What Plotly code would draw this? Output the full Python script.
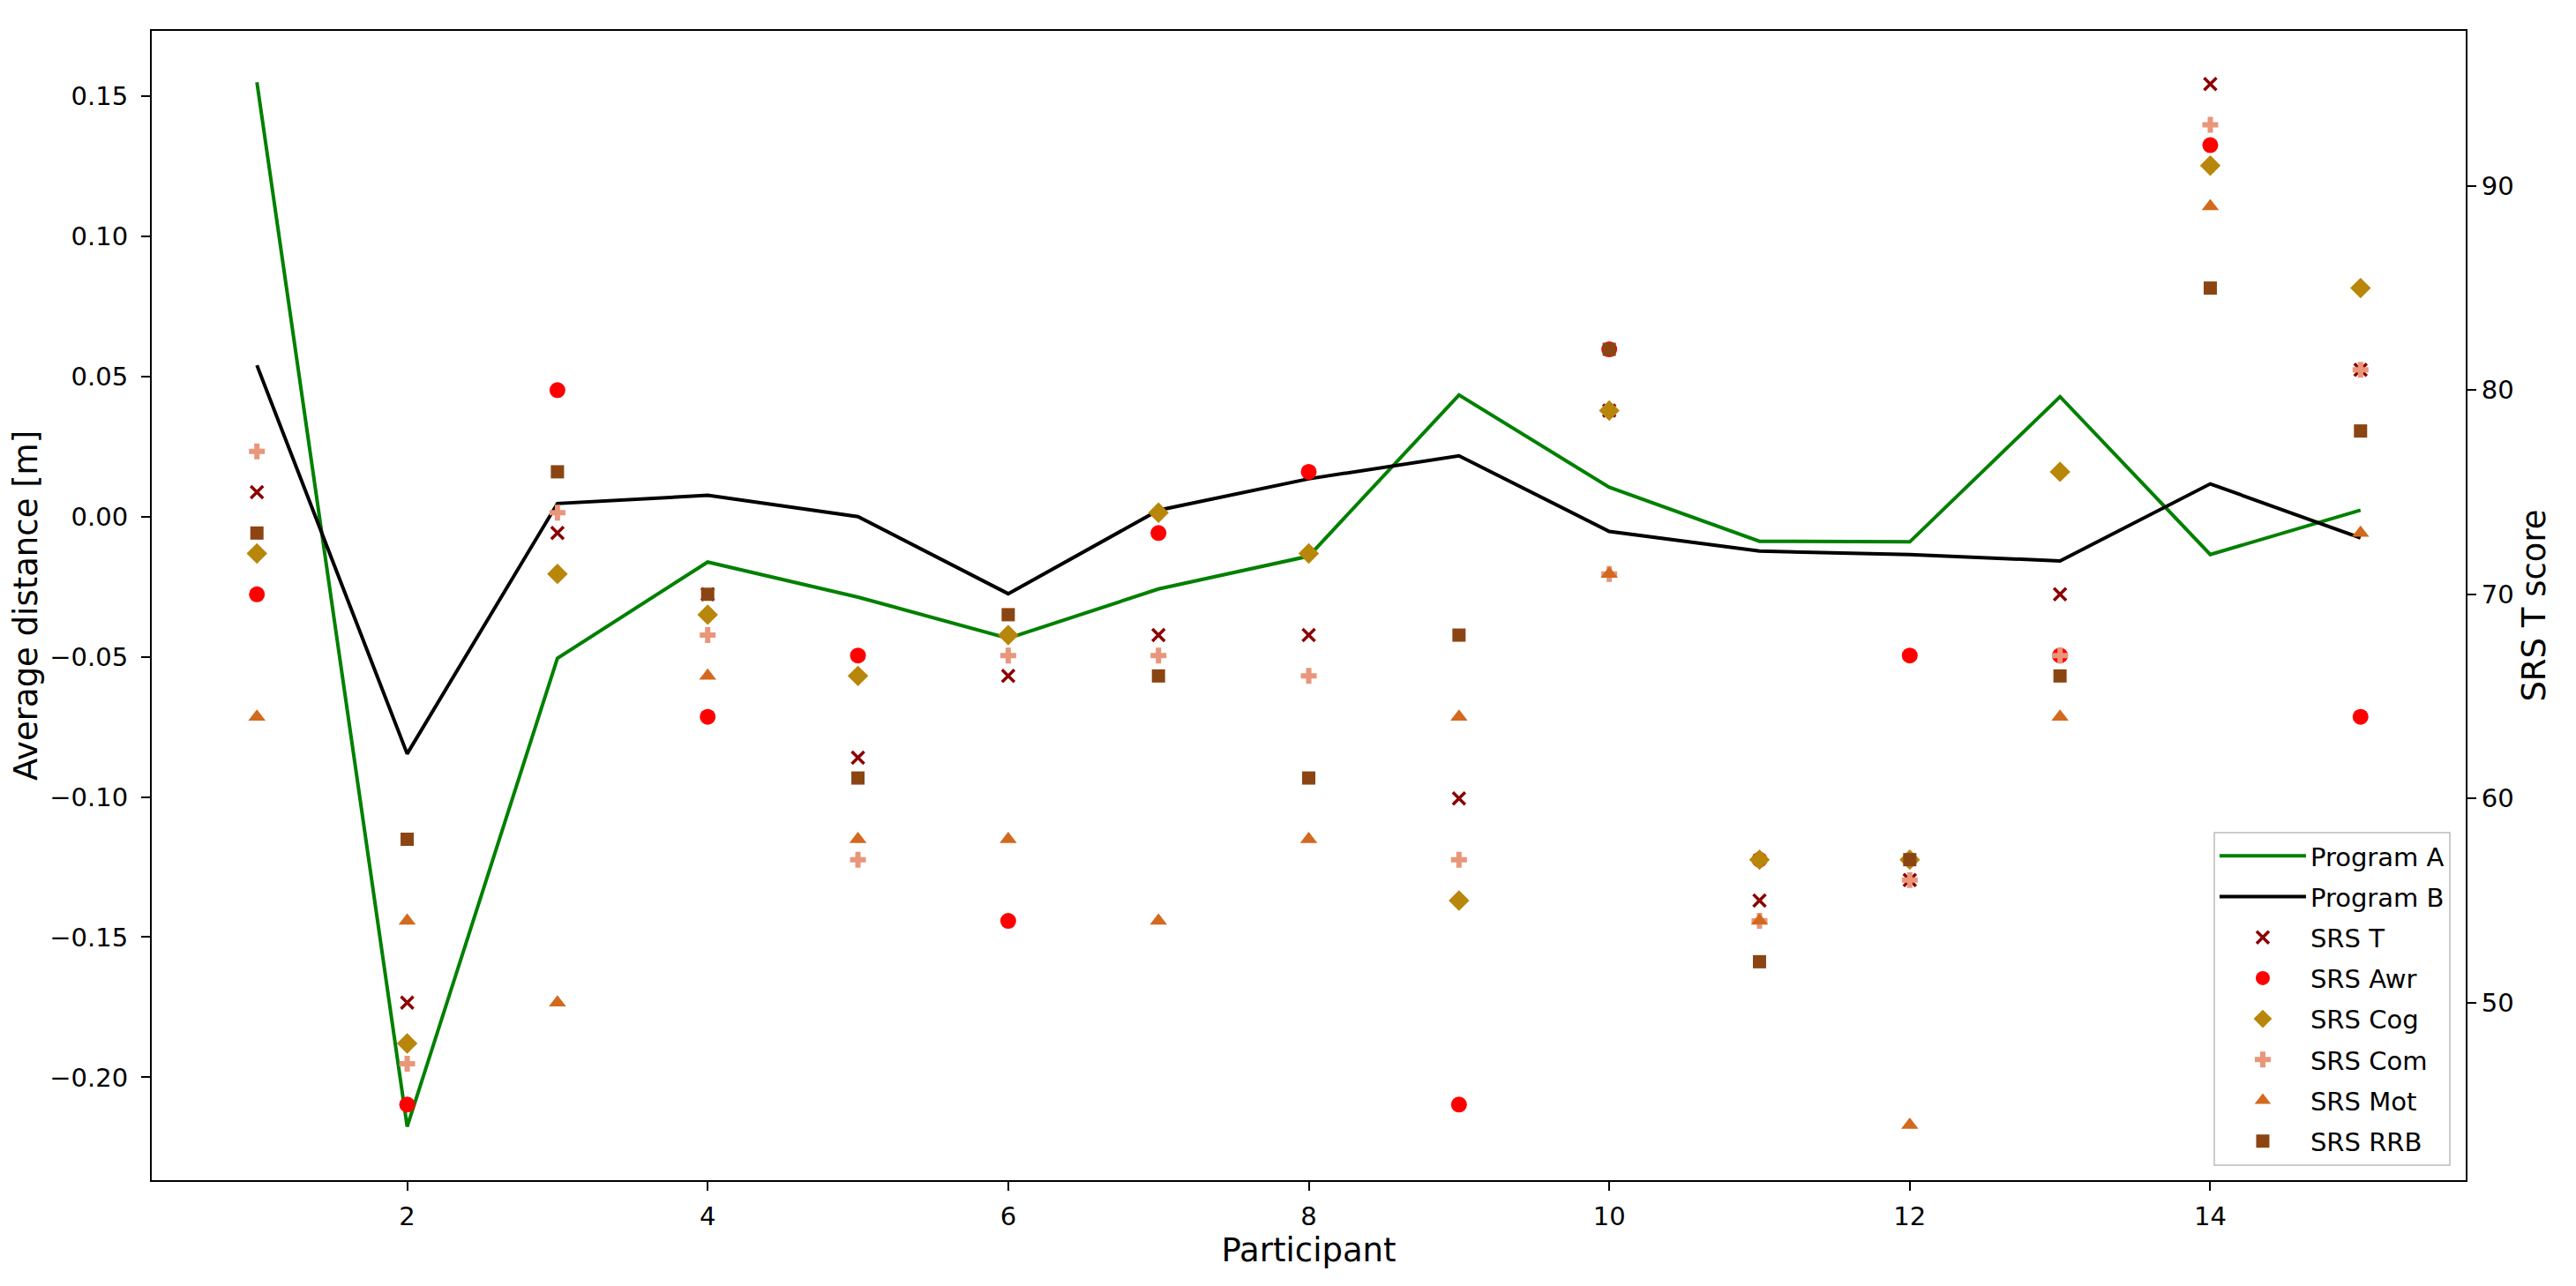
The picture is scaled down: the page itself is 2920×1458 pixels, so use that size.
import plotly.graph_objects as go

participants = list(range(1, 16))
program_a = [0.155, -0.2176, -0.0505, -0.0162, -0.0287, -0.0434, -0.0258, -0.0141,
             0.0434, 0.0105, -0.0088, -0.0090, 0.0428, -0.0135, 0.0023]
program_b = [0.054, -0.0846, 0.0047, 0.0076, 0.0, -0.0275, 0.0023, 0.0135,
             0.0217, -0.0053, -0.0123, -0.0135, -0.0158, 0.0117, -0.0076]

srs_t = [75, 50, 73, 70, 62, 66, 68, 68, 60, 79, 55, 56, 70, 95, 81]
srs_awr = [70, 45, 80, 64, 67, 54, 73, 76, 45, 82, 57, 67, 67, 92, 64]
srs_cog = [72, 48, 71, 69, 66, 68, 74, 72, 55, 79, 57, 57, 76, 91, 85]
srs_com = [77, 47, 74, 68, 57, 67, 67, 66, 57, 71, 54, 56, 67, 93, 81]
srs_mot = [64, 54, 50, 66, 58, 58, 54, 58, 64, 71, 54, 44, 64, 89, 73]
srs_rrb = [73, 58, 76, 70, 61, 69, 66, 61, 68, 82, 52, 57, 66, 85, 78]

left_ticks = [-0.20, -0.15, -0.10, -0.05, 0.00, 0.05, 0.10, 0.15]
right_ticks = [50, 60, 70, 80, 90]
x_ticks = [2, 4, 6, 8, 10, 12, 14]

FONT = "DejaVu Sans"
fig = go.Figure()

fig.add_trace(go.Scatter(x=participants, y=program_a, mode="lines", name="Program A",
                         line=dict(color="#008000", width=4), legendgroup="a", yaxis="y"))
fig.add_trace(go.Scatter(x=participants, y=program_b, mode="lines", name="Program B",
                         line=dict(color="black", width=4), legendgroup="b", yaxis="y"))

series = [
    ("SRS T", srs_t, "x-thin", "#8B0000", 14),
    ("SRS Awr", srs_awr, "circle", "#FF0000", 18),
    ("SRS Cog", srs_cog, "diamond", "#B8860B", 18),
    ("SRS Com", srs_com, "cross", "#E9967A", 15),
    ("SRS Mot", srs_mot, "triangle-up", "#D2691E", 17),
    ("SRS RRB", srs_rrb, "square", "#8B4513", 15),
]
for name, vals, sym, col, size in series:
    if sym == "x-thin":
        marker = dict(symbol=sym, color=col, size=size, line=dict(color=col, width=3.5))
    else:
        marker = dict(symbol=sym, color=col, size=size, line=dict(width=0))
    fig.add_trace(go.Scatter(x=participants, y=vals, mode="markers", name=name,
                             marker=marker, legendgroup=name, yaxis="y2"))

axis_common = dict(showline=True, linecolor="black", linewidth=2, ticks="outside",
                   ticklen=10, tickwidth=2, tickcolor="black", showgrid=False,
                   zeroline=False, automargin=False,
                   tickfont=dict(family=FONT, size=29, color="black"))

# page body has an 8px margin; figure sized so the page is 2920x1458
fig.update_layout(
    width=2904, height=1442,
    margin=dict(l=164, r=117, t=27, b=112),
    paper_bgcolor="white", plot_bgcolor="white",
    font=dict(family=FONT, size=29, color="black"),
    xaxis=dict(range=[0.3, 15.7], tickvals=x_ticks, mirror=True, ticklabelstandoff=4,
               title=dict(text="Participant", font=dict(family=FONT, size=37), standoff=6),
               **axis_common),
    yaxis=dict(range=[-0.2367, 0.1733], tickvals=left_ticks, tickformat=".2f", mirror=True,
               ticklabelstandoff=9,
               title=dict(text="Average distance [m]", font=dict(family=FONT, size=37), standoff=14),
               **axis_common),
    yaxis2=dict(range=[41.3, 97.6], tickvals=right_ticks, overlaying="y", side="right",
                title=dict(text="SRS T score", font=dict(family=FONT, size=37), standoff=10),
                **axis_common),
    legend=dict(x=0.9935, y=0.0123, xanchor="right", yanchor="bottom",
                bgcolor="rgba(255,255,255,0.8)", bordercolor="#cccccc", borderwidth=2,
                font=dict(family=FONT, size=29, color="black"),
                tracegroupgap=5.5, traceorder="grouped", itemwidth=98),
    showlegend=True,
)

fig.write_html("out.html")
